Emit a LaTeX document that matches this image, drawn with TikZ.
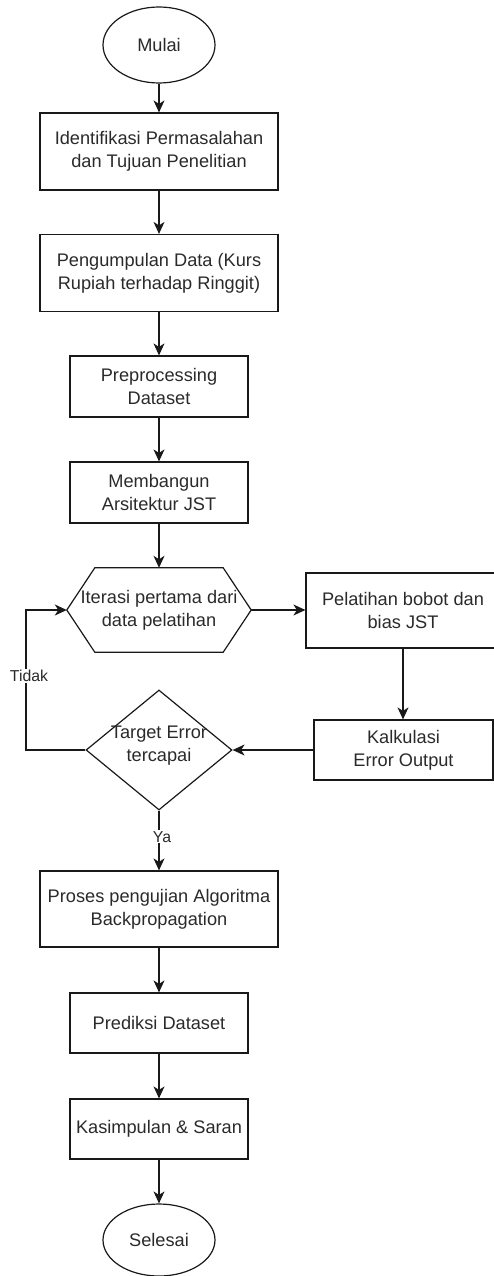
\documentclass[tikz,border=0pt]{standalone}
\usepackage{fontspec}
\setmainfont{Liberation Sans}
\usetikzlibrary{shapes.geometric,arrows.meta}
\definecolor{txt}{HTML}{2A2A2A}

\begin{document}
\begin{tikzpicture}[x=1pt,y=-1pt,
  every node/.style={font=\fontsize{18.2}{23}\selectfont, text=txt, align=center, inner sep=0pt},
  line/.style={draw=black!90, line width=1.2pt},
  box/.style={line, rectangle},
  wide/.style={box, minimum width=238pt, minimum height=77pt},
  narrow/.style={box, minimum width=178pt, minimum height=61pt},
  terminal/.style={line, ellipse, minimum width=112pt, minimum height=76pt},
  arr/.style={line, -{Stealth[length=12pt,width=11pt,inset=3.5pt]}},
  lbl/.style={font=\fontsize{15.8}{18}\selectfont, fill=white, inner sep=1pt}]

\useasboundingbox (0,0) rectangle (494,1276);
\clip (0,0) rectangle (494,1276);

% main column
\node[terminal] (mulai) at (159,45) {Mulai};
\node[wide] (b1) at (159,151.5) {Identifikasi Permasalahan\\dan Tujuan Penelitian};
\node[wide] (b2) at (159,273) {Pengumpulan Data (Kurs\\Rupiah terhadap Ringgit)};
\node[narrow] (b3) at (159,386.5) {Preprocessing\\Dataset};
\node[narrow] (b4) at (159,492.5) {Membangun\\Arsitektur JST};

% preparation (hexagon) step
\node[minimum width=184pt, minimum height=84pt] (hex) at (159,610) {Iterasi pertama dari\\data pelatihan};
\draw[line] (hex.west) -- ([xshift=28pt]hex.north west) -- ([xshift=-28pt]hex.north east)
  -- (hex.east) -- ([xshift=-28pt]hex.south east) -- ([xshift=28pt]hex.south west) -- cycle;

% training branch
\node[box, minimum width=194pt, minimum height=75pt] (pel) at (403,610.5) {Pelatihan bobot dan\\bias JST};
\node[box, minimum width=179pt, minimum height=60pt] (kal) at (403.5,750) {Kalkulasi\\Error Output};

% decision
\node[line, diamond, minimum width=146pt, minimum height=120pt] (dia) at (159,750) {};
\node (diatext) at (159,746) {Target Error\\tercapai};

% lower column
\node[wide, minimum height=76pt] (b5) at (159,909) {Proses pengujian Algoritma\\Backpropagation};
\node[narrow, minimum height=60pt] (b6) at (159,1023) {Prediksi Dataset};
\node[narrow, minimum height=60pt] (b7) at (159,1129) {Kasimpulan \& Saran};
\node[terminal, minimum height=72pt] (selesai) at (159,1240) {Selesai};

\coordinate (bend) at (26,750);

% connectors
\draw[arr] (mulai) -- (b1);
\draw[arr] (b1) -- (b2);
\draw[arr] (b2) -- (b3);
\draw[arr] (b3) -- (b4);
\draw[arr] (b4) -- (hex);
\draw[arr] (hex.east) -- (hex.east -| pel.west);
\draw[arr] (pel.south) -- (pel.south |- kal.north);
\draw[arr] (kal.west) -- (dia.east);
\draw[arr] (dia.west) -- (bend) |- (hex.west) node[lbl, pos=0.265, xshift=3pt] {Tidak};
\draw[arr] (dia.south) -- (b5.north) node[lbl, pos=0.44, xshift=3pt] {Ya};
\draw[arr] (b5) -- (b6);
\draw[arr] (b6) -- (b7);
\draw[arr] (b7) -- (selesai);

\end{tikzpicture}
\end{document}
